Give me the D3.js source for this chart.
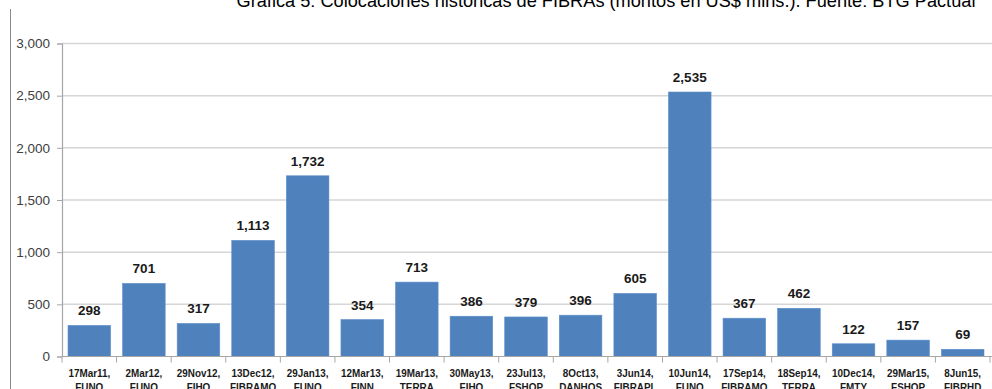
<!DOCTYPE html>
<html>
<head>
<meta charset="utf-8">
<script src="https://cdn.jsdelivr.net/npm/d3@7"></script>
<style>
  html, body { margin: 0; padding: 0; background: #fff; overflow: hidden; }
  svg { display: block; }
</style>
</head>
<body>
<svg id="chart" width="992" height="389"></svg>
<script>
const titleText = "Gráfica 5: Colocaciones históricas de FIBRAs (montos en US$ mlns.). Fuente: BTG Pactual";
const dates = ["17Mar11,","2Mar12,","29Nov12,","13Dec12,","29Jan13,","12Mar13,","19Mar13,","30May13,","23Jul13,","8Oct13,","3Jun14,","10Jun14,","17Sep14,","18Sep14,","10Dec14,","29Mar15,","8Jun15,"];
const issuers = ["FUNO","FUNO","FIHO","FIBRAMO","FUNO","FINN","TERRA","FIHO","FSHOP","DANHOS","FIBRAPL","FUNO","FIBRAMO","TERRA","FMTY","FSHOP","FIBRHD"];
const amounts = [298,701,317,1113,1732,354,713,386,379,396,605,2535,367,462,122,157,69];
const yTicks = [0,500,1000,1500,2000,2500,3000];

const svg = d3.select("#chart");
const mLeft = 62, mRight = 990, mTop = 43.5, mBottom = 356.5;

const x = d3.scaleBand().domain(d3.range(dates.length)).range([mLeft, mRight]).paddingInner(0.22).paddingOuter(0.11);
const y = d3.scaleLinear().domain([0, 3000]).range([mBottom, mTop]);
const fmt = d3.format(",");

// frame line at left
svg.append("line").attr("x1", 10.5).attr("x2", 10.5).attr("y1", 9).attr("y2", 389)
  .attr("stroke", "#8c8c8c").attr("stroke-width", 1);

// title
svg.append("text").attr("x", 606).attr("y", 6.5).attr("text-anchor", "middle")
  .attr("font-family", "Liberation Sans, Arial, sans-serif").attr("font-size", 18.2)
  .attr("fill", "#000").text(titleText);

// gridlines
svg.append("g").selectAll("line").data(yTicks.filter(d => d > 0)).join("line")
  .attr("x1", mLeft).attr("x2", 992)
  .attr("y1", d => y(d)).attr("y2", d => y(d))
  .attr("stroke", "#d6d6d6").attr("stroke-width", 1.5);

// y axis
const yAxis = d3.axisLeft(y).tickValues(yTicks).tickFormat(fmt).tickSize(5).tickPadding(7);
const gy = svg.append("g").attr("transform", `translate(${mLeft},0)`).call(yAxis);
gy.select(".domain").attr("stroke", "#a6a6a6").attr("stroke-width", 1.2);
gy.selectAll(".tick line").attr("stroke", "#a6a6a6");
gy.selectAll(".tick text").attr("font-family", "Liberation Sans, Arial, sans-serif")
  .attr("font-size", 13.5).attr("fill", "#404040");

// bars
svg.append("g").selectAll("rect").data(amounts).join("rect")
  .attr("x", (d, i) => x(i)).attr("width", x.bandwidth())
  .attr("y", d => y(d)).attr("height", d => mBottom - y(d))
  .attr("fill", "#4f81bd").attr("stroke", "#5b8fcc").attr("stroke-width", 0.6);

// value labels
svg.append("g").selectAll("text").data(amounts).join("text")
  .attr("x", (d, i) => x(i) + x.bandwidth() / 2).attr("y", d => y(d) - 10)
  .attr("text-anchor", "middle")
  .attr("font-family", "Liberation Sans, Arial, sans-serif").attr("font-weight", "bold")
  .attr("font-size", 13.5).attr("fill", "#1a1a1a").text(d => fmt(d));

// x axis line and ticks at category boundaries
svg.append("line").attr("x1", mLeft).attr("x2", 992).attr("y1", mBottom).attr("y2", mBottom)
  .attr("stroke", "#a6a6a6").attr("stroke-width", 1.2);
const step = x.step();
const bounds = d3.range(dates.length + 1).map(i => x(0) - x.paddingOuter() * step + i * step);
svg.append("g").selectAll("line").data(bounds).join("line")
  .attr("x1", d => d).attr("x2", d => d).attr("y1", mBottom).attr("y2", mBottom + 6)
  .attr("stroke", "#a6a6a6").attr("stroke-width", 1);

// category labels
const cat = svg.append("g").selectAll("text").data(dates).join("text")
  .attr("text-anchor", "middle")
  .attr("font-family", "Liberation Sans, Arial, sans-serif").attr("font-weight", "bold")
  .attr("font-size", 11).attr("fill", "#1a1a1a")
  .attr("transform", (d, i) => `translate(${x(i) + x.bandwidth() / 2},0) scale(0.9,1)`);
cat.append("tspan").attr("x", 0).attr("y", 377).text(d => d);
cat.append("tspan").attr("x", 0).attr("y", 391).text((d, i) => issuers[i]);
</script>
</body>
</html>
